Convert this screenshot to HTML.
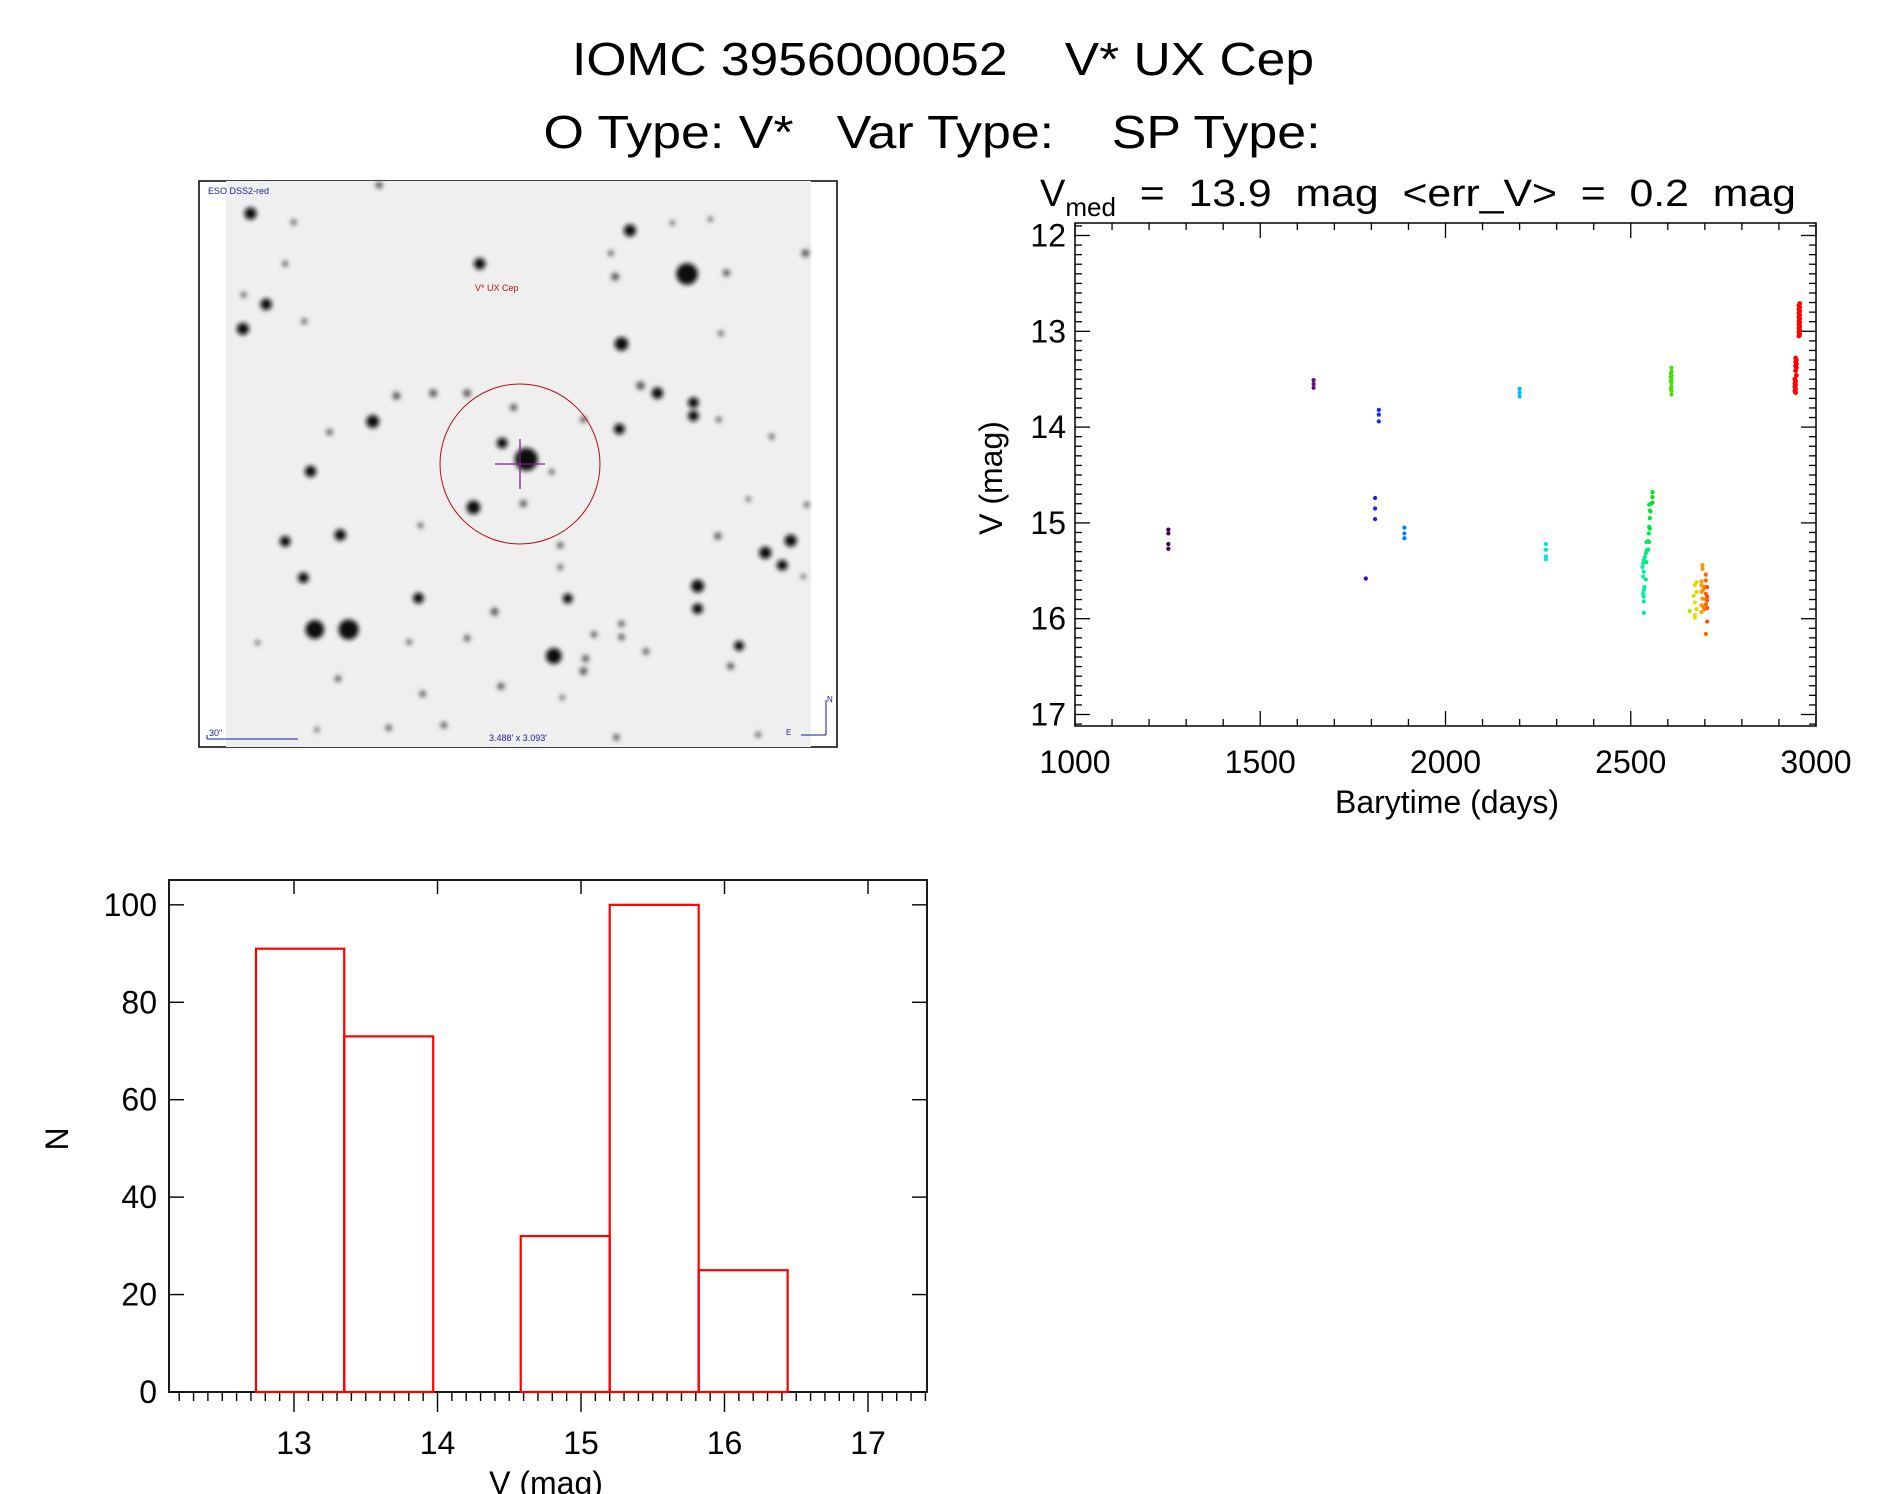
<!DOCTYPE html>
<html><head><meta charset="utf-8"><style>
html,body{margin:0;padding:0;background:#fff;}
svg{display:block;font-family:"Liberation Sans",sans-serif;}
text{white-space:pre;}
</style></head><body>
<svg id="root" width="1889" height="1494" viewBox="0 0 1889 1494">
<defs><filter id="blur"><feGaussianBlur stdDeviation="2.4"/></filter></defs>
<text x="943" y="75" font-size="46" text-anchor="middle" textLength="742" lengthAdjust="spacingAndGlyphs">IOMC 3956000052    V* UX Cep</text>
<text x="932" y="148" font-size="46" text-anchor="middle" textLength="777" lengthAdjust="spacingAndGlyphs">O Type: V*   Var Type:    SP Type:</text>
<g id="img"></g>
<g id="lc"></g>
<g id="hist"></g>
</svg>
<script>
const NS='http://www.w3.org/2000/svg';
function mk(p,t,a){const e=document.createElementNS(NS,t);for(const k in a)e.setAttribute(k,a[k]);p.appendChild(e);return e;}

// ---------- light curve data ----------
const lcDays=[1252,1252,1252,1252,1644,1644,1644,1785,1810,1810,1810,1820,1820,1820,1889,1889,1889,2200,2200,2200,2271,2271,2271,2271,
2558.6,2558.6,2558.6,2553.2,2549.6,2551.4,2553.2,2551.4,2549.6,2551.4,2548.7,2546.9,2549.6,2542.4,2546.9,2542.4,2540.6,2537.9,2535.2,2533.4,2542.4,2531.6,2535.2,2533.4,2540.6,2537,2535.2,2533.4,2535.2,2535.2,2535.2,
2610,2610,2610,2610,2610,2610,2610,2610,2608,2608,2608,2608,
2693.6,2693.6,2702.6,2702.6,2690.9,2677.4,2672.9,2690.9,2699.9,2706.2,2677.4,2690.9,2702.6,2706.2,2670.2,2693.6,2706.2,2672.9,2690.9,2702.6,2706.2,2677.4,2699.9,2659.4,2690.9,2672.9,2672.9,2706.2,2702.6,2695,2704,2697,
2956,2954,2956,2954,2956,2954,2956,2954,2956,2954,2956,2954,2956,2954,2956,2954,2956,2954,2945,2947,2945,2947,2945,2947,2945,2947,2943,2945,2943,2945,2943,2945,2943,2945];
const lcMags=[15.07,15.11,15.22,15.27,13.51,13.55,13.59,15.58,14.74,14.85,14.96,13.82,13.87,13.94,15.05,15.11,15.16,13.60,13.64,13.68,15.22,15.28,15.35,15.38,
14.68,14.73,14.79,14.80,14.81,14.87,14.88,14.95,15.04,15.06,15.11,15.19,15.20,15.20,15.28,15.29,15.32,15.36,15.39,15.42,15.41,15.46,15.51,15.56,15.59,15.67,15.70,15.74,15.77,15.82,15.94,
13.38,13.42,13.46,13.50,13.54,13.58,13.62,13.66,13.44,13.48,13.52,13.60,
15.44,15.48,15.54,15.60,15.61,15.62,15.65,15.65,15.67,15.67,15.72,15.72,15.74,15.77,15.76,15.79,15.81,15.83,15.86,15.85,15.89,15.90,15.90,15.92,15.93,15.96,15.99,16.03,16.16,15.70,15.80,15.88,
12.71,12.73,12.75,12.77,12.79,12.81,12.83,12.85,12.87,12.89,12.91,12.93,12.95,12.97,12.99,13.01,13.03,13.05,13.28,13.30,13.32,13.34,13.36,13.38,13.41,13.46,13.50,13.52,13.54,13.56,13.58,13.60,13.62,13.64];
const lcXTicks=[1000,1500,2000,2500,3000];
const lcYTicks=[12,13,14,15,16,17];

// ---------- histogram data ----------
const binEdges=[12.735,13.35,13.97,14.58,15.2,15.82,16.44];
const counts=[91,73,0,32,100,25];
const hXTicks=[13,14,15,16,17];
const hYTicks=[0,20,40,60,80,100];

// ---------- finder image ----------
(function(){
 const g=document.getElementById('img');
 mk(g,'rect',{x:199,y:181,width:638,height:566,fill:'#fff',stroke:'#000','stroke-width':1.5});
 mk(g,'rect',{x:226,y:181,width:585,height:566,fill:'#efefef'});
 const stars=[[1175,275,30],[295,1215,26],[375,1215,28],[795,765,32],[860,1285,22],
 [143,115,17],[1040,160,17],[685,248,16],[180,355,16],[125,420,17],[1020,460,19],[1105,590,16],[1190,615,15],[1190,650,15],[1015,685,15],[432,665,18],[738,722,15],[670,892,19],[285,797,16],[355,965,16],[225,982,15],[268,1078,15],[540,1132,15],[893,1133,14],[1200,1100,18],[1200,1160,15],[1420,980,17],[1360,1012,17],[1400,1045,15],[1298,1258,14],[1065,570,12],[1455,220,11],
 [447,40,10],[1005,282,11],[1268,272,10],[488,597,11],[575,590,11],[655,590,11],[765,628,10],[788,882,10],[330,693,9],[720,1168,11],[935,1292,10],[930,1325,11],[1278,1312,10],[1248,968,10],[1078,1273,9],[655,1238,9],[550,1385,9],[350,1345,9],[470,1475,9],[1008,1500,9],[600,1468,9],[735,1365,10],[955,1228,9],[1020,1200,9],[1020,1235,9],[875,992,9],[875,1050,8],[930,660,9],[855,798,8],[1458,885,8],[1255,432,8],[1343,1493,8],[518,1248,8],[225,248,8],[127,330,8],[245,138,8],[270,400,8],[995,220,8],[1375,705,8],[545,940,8],[1250,660,8],[1450,1075,7],[1320,870,7],[160,1250,7],[300,1480,7],[880,1395,7],[1140,140,7],[1230,130,7]];
 const sg=mk(g,'g',{filter:'url(#blur)'});
 stars.forEach(s=>{const r=s[2]/2.364*0.85;const c=mk(sg,'circle',{cx:190+s[0]/2.364,cy:170+s[1]/2.644,r:r,fill:r>5?'#111':'#555'});
  
  });
 mk(g,'ellipse',{cx:520,cy:464,rx:80,ry:80,fill:'none',stroke:'#b01010','stroke-width':1});
 mk(g,'line',{x1:495,y1:464,x2:545,y2:464,stroke:'#8a1a9a','stroke-width':1.3});
 mk(g,'line',{x1:520,y1:439,x2:520,y2:489,stroke:'#8a1a9a','stroke-width':1.3});
 const t1=mk(g,'text',{x:208,y:194,'font-size':9,fill:'#1a1a9a'});t1.textContent='ESO DSS2-red';
 
 const t2=mk(g,'text',{x:475,y:291,'font-size':9,fill:'#c01010'});t2.textContent='V* UX Cep';
 
 mk(g,'line',{x1:207,y1:739,x2:298,y2:739,stroke:'#1a1a9a','stroke-width':1});
 mk(g,'line',{x1:207,y1:735,x2:207,y2:739,stroke:'#1a1a9a','stroke-width':1});
 const t3=mk(g,'text',{x:209,y:736,'font-size':9,fill:'#1a1a9a'});t3.textContent='30"';
 
 const t4=mk(g,'text',{x:518,y:741,'font-size':9,fill:'#1a1a9a','text-anchor':'middle'});t4.textContent="3.488' x 3.093'";
 
 mk(g,'line',{x1:826,y1:700,x2:826,y2:735,stroke:'#1a1a9a','stroke-width':1});
 mk(g,'line',{x1:801,y1:735,x2:826,y2:735,stroke:'#1a1a9a','stroke-width':1});
 const t5=mk(g,'text',{x:827,y:702,'font-size':8,fill:'#1a1a9a'});t5.textContent='N';
 const t6=mk(g,'text',{x:786,y:735,'font-size':8,fill:'#1a1a9a'});t6.textContent='E';
})();

// ---------- light curve ----------
(function(){
 const g=document.getElementById('lc');
 const L=1075,R=1816,T=223,B=726;
 const X=d=>L+(d-1000)/2000*(R-L);
 const Y=m=>235.5+(m-12)*95.8;
 const stops=[[1250,[60,0,80]],[1644,[100,10,130]],[1785,[60,0,200]],[1810,[20,30,255]],[1889,[0,128,255]],[2200,[0,185,255]],[2271,[0,225,225]],[2535,[0,240,160]],[2560,[0,225,0]],[2610,[70,225,0]],[2660,[170,230,0]],[2673,[225,225,0]],[2691,[255,160,0]],[2706,[255,80,0]],[2950,[255,0,0]]];
 function col(d){if(d<=stops[0][0])return stops[0][1];for(let i=1;i<stops.length;i++){if(d<=stops[i][0]){const a=stops[i-1],b=stops[i],t=(d-a[0])/(b[0]-a[0]);return a[1].map((v,k)=>Math.round(v+(b[1][k]-v)*t));}}return stops[stops.length-1][1];}
 mk(g,'rect',{x:L,y:T,width:R-L,height:B-T,fill:'none',stroke:'#000','stroke-width':1.5});
 for(let d=1000;d<=3000;d+=100){const maj=d%500===0,len=maj?15:7;
  mk(g,'line',{x1:X(d),y1:B,x2:X(d),y2:B-len,stroke:'#000','stroke-width':1.3});
  mk(g,'line',{x1:X(d),y1:T,x2:X(d),y2:T+len,stroke:'#000','stroke-width':1.3});}
 for(let i=0;i<=52;i++){const m=12-0.1+i*0.1;const y=Y(m);if(y<T||y>B)continue;const maj=Math.abs(m-Math.round(m))<1e-6,len=maj?15:7;
  mk(g,'line',{x1:L,y1:y,x2:L+len,y2:y,stroke:'#000','stroke-width':1.3});
  mk(g,'line',{x1:R,y1:y,x2:R-len,y2:y,stroke:'#000','stroke-width':1.3});}
 lcXTicks.forEach(v=>{const t=mk(g,'text',{x:X(v),y:773,'font-size':32,'text-anchor':'middle'});t.textContent=v;
  });
 lcYTicks.forEach(v=>{const t=mk(g,'text',{x:1066,y:Y(v)+11,'font-size':32,'text-anchor':'end'});t.textContent=v;
  });
 const xt=mk(g,'text',{x:1447,y:813,'font-size':32,'text-anchor':'middle'});xt.textContent='Barytime (days)';
 
 const yt=mk(g,'text',{x:0,y:0,'font-size':32,'text-anchor':'middle',transform:'translate(1002,478) rotate(-90)'});yt.textContent='V (mag)';
 
 const st=mk(g,'text',{x:1040,y:206,'font-size':38});
 
 st.innerHTML='V<tspan font-size="26" dy="10">med</tspan><tspan dy="-10" textLength="680" lengthAdjust="spacingAndGlyphs">  =  13.9  mag  &lt;err_V&gt;  =  0.2  mag</tspan>';
 lcDays.forEach((d,i)=>{const c=col(d);const p=mk(g,'circle',{cx:X(d),cy:Y(lcMags[i]),r:d>2900?2.4:2.1,fill:'rgb('+c.join(',')+')'});
  
  });
})();

// ---------- histogram ----------
(function(){
 const g=document.getElementById('hist');
 const L=169,R=927,T=880,B=1392;
 const X=v=>294+(v-13)*143.5;
 const Y=n=>B-n/105.1*(B-T);
 mk(g,'rect',{x:L,y:T,width:R-L,height:B-T,fill:'none',stroke:'#000','stroke-width':1.8});
 for(let i=0;i<=55;i++){const v=12.2+i*0.1;const x=X(v);if(x<L||x>R)continue;const maj=Math.abs(v-Math.round(v))<1e-6;
  mk(g,'line',{x1:x,y1:B,x2:x,y2:B+(maj?20:9),stroke:'#000','stroke-width':1.4});
  if(maj)mk(g,'line',{x1:x,y1:T,x2:x,y2:T+14,stroke:'#000','stroke-width':1.4});}
 hYTicks.forEach(v=>{const y=Y(v);
  mk(g,'line',{x1:L,y1:y,x2:L+15,y2:y,stroke:'#000','stroke-width':1.4});
  mk(g,'line',{x1:R,y1:y,x2:R-15,y2:y,stroke:'#000','stroke-width':1.4});
  const t=mk(g,'text',{x:157,y:y+11,'font-size':32,'text-anchor':'end'});t.textContent=v;
  });
 hXTicks.forEach(v=>{const t=mk(g,'text',{x:X(v),y:1454,'font-size':32,'text-anchor':'middle'});t.textContent=v;
  });
 const xt=mk(g,'text',{x:546,y:1494,'font-size':32,'text-anchor':'middle'});xt.textContent='V (mag)';
 
 const yt=mk(g,'text',{x:0,y:0,'font-size':32,'text-anchor':'middle',transform:'translate(68,1139) rotate(-90)'});yt.textContent='N';
 
 counts.forEach((n,i)=>{const x0=X(binEdges[i]),x1=X(binEdges[i+1]);
  const b=mk(g,'rect',{x:x0,y:Y(n),width:x1-x0,height:B-Y(n),fill:'none',stroke:'#ff0000','stroke-width':2.2});
  
  });
})();
</script>
</body></html>
